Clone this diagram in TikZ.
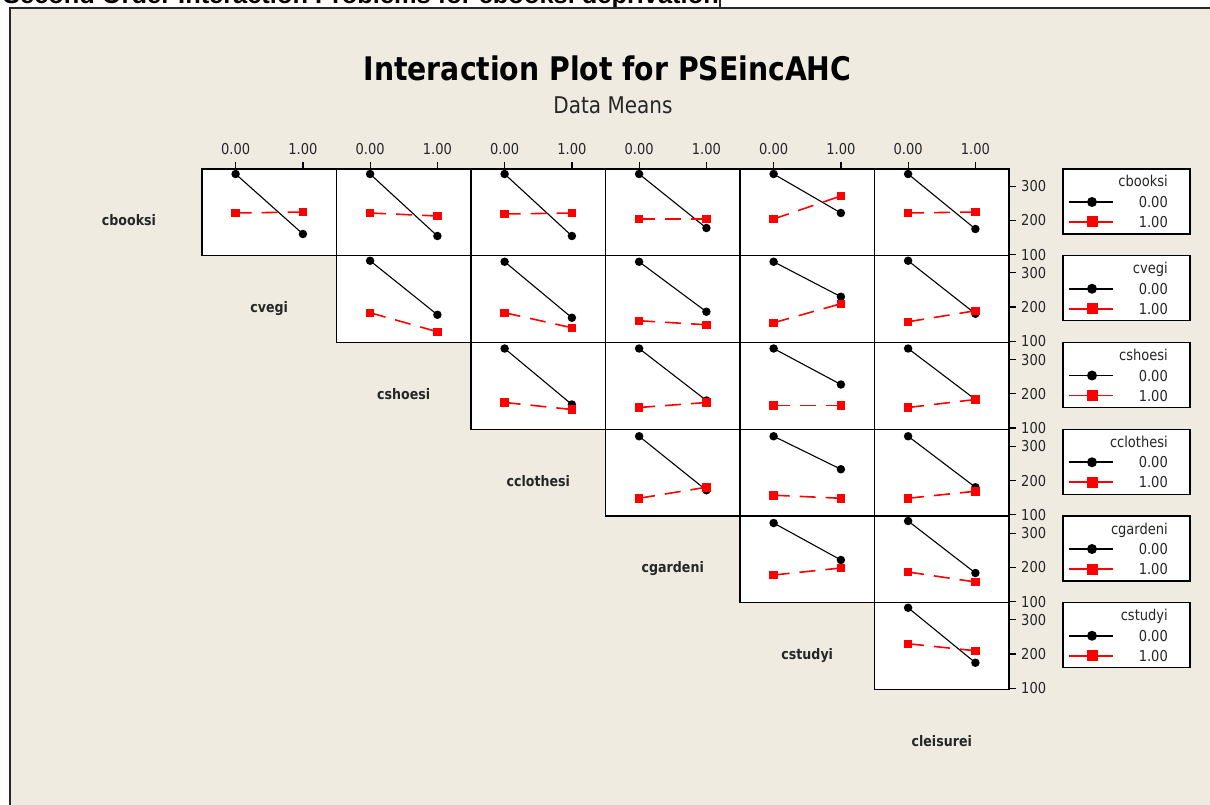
\documentclass[tikz,border=0pt]{standalone}
\usepackage{fontspec}
\newfontfamily\tah{DejaVu Sans}[FakeStretch=0.87]
\newfontfamily\arb{Liberation Sans}
\definecolor{bgbeige}{RGB}{239,235,225}
\definecolor{mred}{RGB}{255,0,0}
\definecolor{framegray}{RGB}{40,40,40}
\tikzset{
  cellbox/.style={draw=black, fill=white, line width=1.3pt},
  blkline/.style={black, line width=1.1pt},
  redline/.style={mred, line width=1.6pt, dash pattern=on 16pt off 10pt},
  legblk/.style={black, line width=1.6pt},
  legred/.style={mred, line width=1.6pt},
  blkdot/.style={circle, fill=black, draw=none, inner sep=0pt, minimum size=8.5pt},
  redsq/.style={rectangle, fill=mred, draw=none, inner sep=0pt, minimum size=8.5pt},
  legdot/.style={circle, fill=black, draw=none, inner sep=0pt, minimum size=10pt},
  legsq/.style={rectangle, fill=mred, draw=none, inner sep=0pt, minimum size=11pt},
  legbox/.style={draw=black, fill=white, line width=1.3pt},
  ticklab/.style={inner sep=0pt, font=\tah\fontsize{15}{18}\selectfont, text=black!85},
  rowlab/.style={inner sep=0pt, font=\tah\bfseries\fontsize{14.5}{17}\selectfont, text=black!85},
  tickmark/.style={black, line width=1.2pt},
}
\begin{document}
\begin{tikzpicture}[x=1pt,y=-1pt]
\useasboundingbox (0,0) rectangle (1210,805);
\clip (0,0) rectangle (1210,805);
\fill[white] (0,0) rectangle (1210,805);
% caption, cut off at the top
\node[anchor=base west, inner sep=0pt, font=\arb\bfseries\fontsize{25.4}{30}\selectfont] (caption) at (3,4) {Second Order Interaction Problems for cbooksi deprivation};
\draw[framegray, line width=2pt] (720,-2) -- (720,8);
% graph frame
\draw[fill=bgbeige, draw=framegray, line width=2pt] (10,8) rectangle (1225,820);
% titles
\node[anchor=base, inner sep=0pt, font=\tah\bfseries\fontsize{32.5}{38}\selectfont] (title) at (607.5,81) {Interaction Plot for PSEincAHC};
\node[anchor=base, inner sep=0pt, font=\tah\fontsize{23}{28}\selectfont, text=black!85] (subtitle) at (613,114) {Data Means};
% top axis ticks and labels
\foreach \c in {1,...,6}{
  \pgfmathsetmacro\xa{202+(\c-1)*134.5+33.6}
  \pgfmathsetmacro\xb{202+(\c-1)*134.5+100.9}
  \draw[tickmark] (\xa,162) -- (\xa,169);
  \draw[tickmark] (\xb,162) -- (\xb,169);
  \node[ticklab, anchor=base] (xa\c) at (\xa,155) {0.00};
  \node[ticklab, anchor=base] (xb\c) at (\xb,155) {1.00};
}
% cells
\foreach \r/\c in {1/1,1/2,1/3,1/4,1/5,1/6,2/2,2/3,2/4,2/5,2/6,3/3,3/4,3/5,3/6,4/4,4/5,4/6,5/5,5/6,6/6}{
  \pgfmathsetmacro\L{202+(\c-1)*134.5}
  \pgfmathsetmacro\T{169+(\r-1)*86.75}
  \draw[cellbox] (\L,\T) rectangle ++(134.5,86.75);
}
% data
\foreach \r/\c/\ba/\bb/\ra/\rb in {
  1/1/5/65/44/43, 1/2/5/67/44/47, 1/3/5/67/45/44, 1/4/5/59/50/50, 1/5/5/44/50/27, 1/6/5/60/44/43,
  2/2/5/59/57/76, 2/3/6/62/57/72, 2/4/6/56/65/69, 2/5/6/41/67/48, 2/6/5/58/66/55,
  3/3/6/62/60/67, 3/4/6/58/65/60, 3/5/6/42/63/63, 3/6/6/57/65/57,
  4/4/7/61/69/58, 4/5/7/40/66/69, 4/6/7/58/69/62,
  5/5/7/44/59/52, 5/6/5/57/56/66,
  6/6/5/60/41/48}{
  \pgfmathsetmacro\xa{202+(\c-1)*134.5+33.6}
  \pgfmathsetmacro\xb{202+(\c-1)*134.5+100.9}
  \pgfmathsetmacro\T{169+(\r-1)*86.75}
  \pgfmathsetmacro\yba{\T+\ba}
  \pgfmathsetmacro\ybb{\T+\bb}
  \pgfmathsetmacro\yra{\T+\ra}
  \pgfmathsetmacro\yrb{\T+\rb}
  \draw[blkline] (\xa,\yba) -- (\xb,\ybb);
  \node[blkdot] (ba\r\c) at (\xa,\yba) {};
  \node[blkdot] (bb\r\c) at (\xb,\ybb) {};
  \draw[redline] (\xa,\yra) -- (\xb,\yrb);
  \node[redsq] (ra\r\c) at (\xa,\yra) {};
  \node[redsq] (rb\r\c) at (\xb,\yrb) {};
}
% right axis, legends, row labels
\foreach \r/\nm in {1/cbooksi,2/cvegi,3/cshoesi,4/cclothesi,5/cgardeni,6/cstudyi}{
  \pgfmathsetmacro\T{169+(\r-1)*86.75}
  \foreach \v in {100,200,300}{
    \pgfmathsetmacro\ty{\T+85.5-(\v-100)*0.342}
    \pgfmathsetmacro\tb{\ty+5.5}
    \draw[tickmark] (1009,\ty) -- (1016,\ty);
    \node[ticklab, anchor=base west] (yl\r\v) at (1021,\tb) {\v};
  }
  \pgfmathsetmacro\Tb{\T+65}
  \draw[legbox] (1063,\T) rectangle (1190,\Tb);
  \pgfmathsetmacro\ya{\T+18}
  \pgfmathsetmacro\yb{\T+33}
  \pgfmathsetmacro\yc{\T+53}
  \node[ticklab, anchor=base east] (lt\r) at (1168,\ya) {\nm};
  \draw[legblk] (1069,\yb) -- (1113,\yb);
  \node[legdot] (ld\r) at (1092,\yb) {};
  \node[ticklab, anchor=base east] (l0\r) at (1168,\yb+5.5) {0.00};
  \draw[legred] (1069,\yc) -- (1113,\yc);
  \node[legsq] (ls\r) at (1092,\yc) {};
  \node[ticklab, anchor=base east] (l1\r) at (1168,\yc+5.5) {1.00};
}
\foreach \r/\nm/\x in {1/cbooksi/129,2/cvegi/269.25,3/cshoesi/403.75,4/cclothesi/538.25,5/cgardeni/672.75,6/cstudyi/807.25,7/cleisurei/941.75}{
  \pgfmathsetmacro\by{169+(\r-1)*86.75+43.4+13.5}
  \node[rowlab, anchor=base] (rl\r) at (\x,\by) {\nm};
}
\end{tikzpicture}
\end{document}
